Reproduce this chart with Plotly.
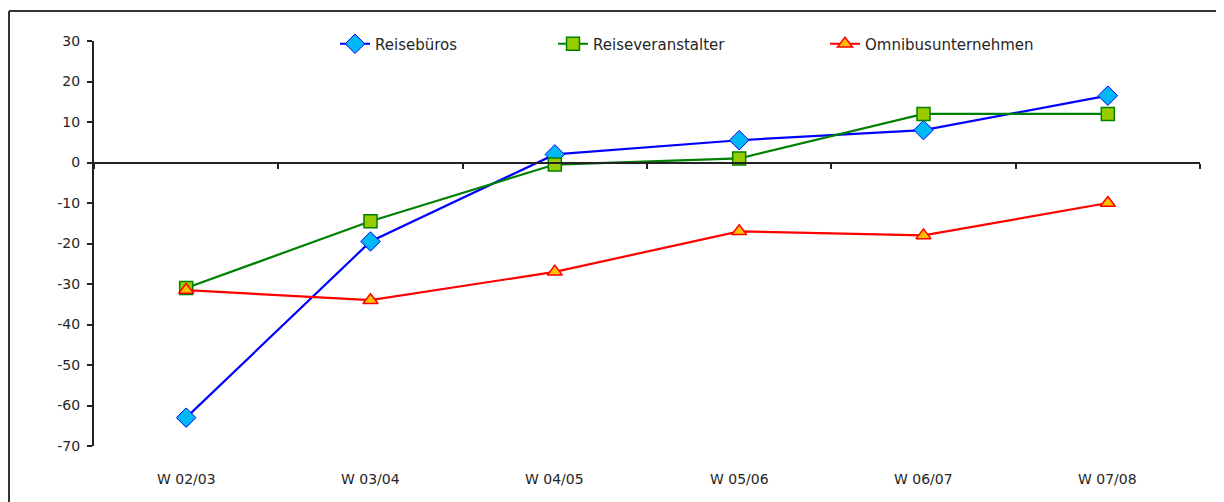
import plotly.graph_objects as go

# Wintersaison-Vergleich, Salden in Prozentpunkten
seasons = ["W 02/03", "W 03/04", "W 04/05", "W 05/06", "W 06/07", "W 07/08"]
reisebueros = [-63, -19.5, 2, 5.5, 8, 16.5]
reiseveranstalter = [-31, -14.5, -0.5, 1, 12, 12]
omnibus = [-31.5, -34, -27, -17, -18, -10]
y_ticks = [30, 20, 10, 0, -10, -20, -30, -40, -50, -60, -70]

# page body adds an 8px offset, so figure coords = screen coords - 8
OFF = 8
W, H = 1224, 502
L, R, T, B = 94 - OFF, 24 + OFF, 41 - OFF, 56 + OFF
pw, ph = W - L - R, H - T - B
FONT = "DejaVu Sans"
TXT = "#262626"


def px_x(x):
    return (x - OFF - L) / pw


def px_y(y):
    return (H - B - (y - OFF)) / ph


fig = go.Figure()

fig.add_trace(go.Scatter(
    x=seasons, y=reisebueros, name="Reisebüros",
    mode="lines+markers", legend="legend",
    line=dict(color="#0000ff", width=2.2),
    marker=dict(symbol="diamond", size=15, color="#00b8f5",
                line=dict(color="#0000ff", width=1))
))
fig.add_trace(go.Scatter(
    x=seasons, y=reiseveranstalter, name="Reiseveranstalter",
    mode="lines+markers", legend="legend2",
    line=dict(color="#008000", width=2.2),
    marker=dict(symbol="square", size=13, color="#99cc00",
                line=dict(color="#008000", width=1.5))
))
fig.add_trace(go.Scatter(
    x=seasons, y=omnibus, name="Omnibusunternehmen",
    mode="lines+markers", legend="legend3",
    line=dict(color="#ff0000", width=2.2),
    marker=dict(symbol="triangle-up", size=13, color="#ffc000",
                line=dict(color="#ff0000", width=1.5))
))

# category labels along the bottom (the axis line itself sits at y = 0)
for s in seasons:
    fig.add_annotation(x=s, xref="x", y=px_y(479), yref="paper",
                       text=s, showarrow=False, yanchor="middle",
                       font=dict(family=FONT, size=14, color=TXT))

# outer frame of the original chart (top and left edges visible)
fx, fy = px_x(9), px_y(11)
fig.add_shape(type="line", xref="paper", yref="paper",
              x0=fx, x1=fx, y0=-0.3, y1=fy,
              line=dict(color="#333333", width=2))
fig.add_shape(type="line", xref="paper", yref="paper",
              x0=fx, x1=1.2, y0=fy, y1=fy,
              line=dict(color="#333333", width=2))


def legend_at(xpx):
    return dict(
        orientation="h",
        x=px_x(xpx), xanchor="left",
        y=px_y(44), yanchor="middle",
        bgcolor="rgba(0,0,0,0)",
        font=dict(family=FONT, size=15, color=TXT),
    )


fig.update_layout(
    width=W, height=H,
    margin=dict(l=L, r=R, t=T, b=B),
    paper_bgcolor="white",
    plot_bgcolor="white",
    font=dict(family=FONT, size=14, color=TXT),
    showlegend=True,
    legend=legend_at(335),
    legend2=legend_at(553),
    legend3=legend_at(825),
    xaxis=dict(
        type="category",
        range=[-0.5, 5.5],
        anchor="free",
        position=(0 - (-70)) / (30 - (-70)),
        tickson="boundaries",
        showticklabels=False,
        showline=True, linecolor="#222222", linewidth=2,
        ticks="outside", ticklen=5, tickcolor="#222222", tickwidth=2,
        showgrid=False, zeroline=False,
    ),
    yaxis=dict(
        range=[-70, 30],
        tickvals=y_ticks,
        ticktext=[str(v) for v in y_ticks],
        showline=True, linecolor="#222222", linewidth=2,
        ticks="outside", ticklen=5, tickcolor="#222222", tickwidth=2,
        showgrid=False, zeroline=False,
        tickfont=dict(family=FONT, size=14, color=TXT),
        ticklabelstandoff=4,
    ),
)

fig.write_html("out.html")
